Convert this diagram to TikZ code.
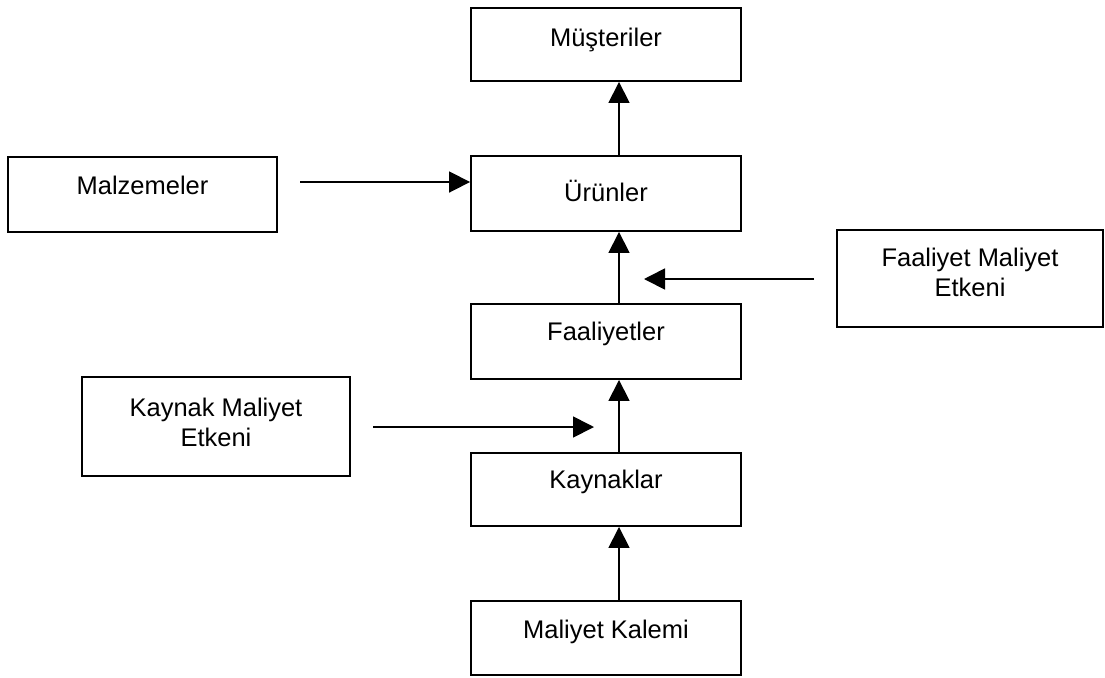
\documentclass[tikz,border=0pt]{standalone}
\usepackage{fontspec}
\setmainfont{Liberation Sans}
\usetikzlibrary{arrows.meta}
\begin{document}
\begin{tikzpicture}[x=0.02cm,y=-0.02cm,
  box/.style={draw, line width=1.1pt, inner sep=0pt, minimum width=5.4cm},
  lbl/.style={font=\fontsize{14.5}{17}\selectfont, inner sep=0pt, align=center},
  arr/.style={line width=1pt, -{Triangle[length=0.42cm,width=0.42cm]}},
]
\useasboundingbox (0,0) rectangle (1105,677);

% boxes
\node[box, minimum height=1.46cm] (mus) at (606,44.5) {};
\node[box, minimum height=1.5cm] (urun) at (606,193.5) {};
\node[box, minimum width=5.38cm, minimum height=1.5cm] (malz) at (142.5,194.5) {};
\node[box, minimum width=5.32cm, minimum height=1.94cm] (fme) at (970,278.5) {};
\node[box, minimum height=1.5cm] (faal) at (606,341.5) {};
\node[box, minimum width=5.36cm, minimum height=1.98cm] (kme) at (216,426.5) {};
\node[box, minimum height=1.46cm] (kayn) at (606,489.5) {};
\node[box, minimum height=1.48cm] (mk) at (606,638) {};

% labels, set in the upper part of each box
\node[lbl, anchor=base] (mus-t) at (606,46) {Müşteriler};
\node[lbl, anchor=base] (urun-t) at (606,201) {Ürünler};
\node[lbl, anchor=base] (malz-t) at (142.5,194) {Malzemeler};
\node[lbl] (fme-t) at (970,272) {Faaliyet Maliyet\\Etkeni};
\node[lbl, anchor=base] (faal-t) at (606,340) {Faaliyetler};
\node[lbl] (kme-t) at (216,422) {Kaynak Maliyet\\Etkeni};
\node[lbl, anchor=base] (kayn-t) at (606,488) {Kaynaklar};
\node[lbl, anchor=base] (mk-t) at (606,638) {Maliyet Kalemi};

% vertical flow
\coordinate (col) at (619,0);
\draw[arr] (urun.north -| col) -- (mus.south -| col);
\draw[arr] (faal.north -| col) -- (urun.south -| col);
\draw[arr] (kayn.north -| col) -- (faal.south -| col);
\draw[arr] (mk.north -| col) -- (kayn.south -| col);

% side inputs
\coordinate (malz-o) at (300,182);
\draw[arr] (malz-o) -- (malz-o -| urun.west);
\coordinate (fme-o) at (814,279);
\coordinate (fme-e) at (644,279);
\draw[arr] (fme-o) -- (fme-e);
\coordinate (kme-o) at (373,427);
\coordinate (kme-e) at (594,427);
\draw[arr] (kme-o) -- (kme-e);
\end{tikzpicture}
\end{document}
